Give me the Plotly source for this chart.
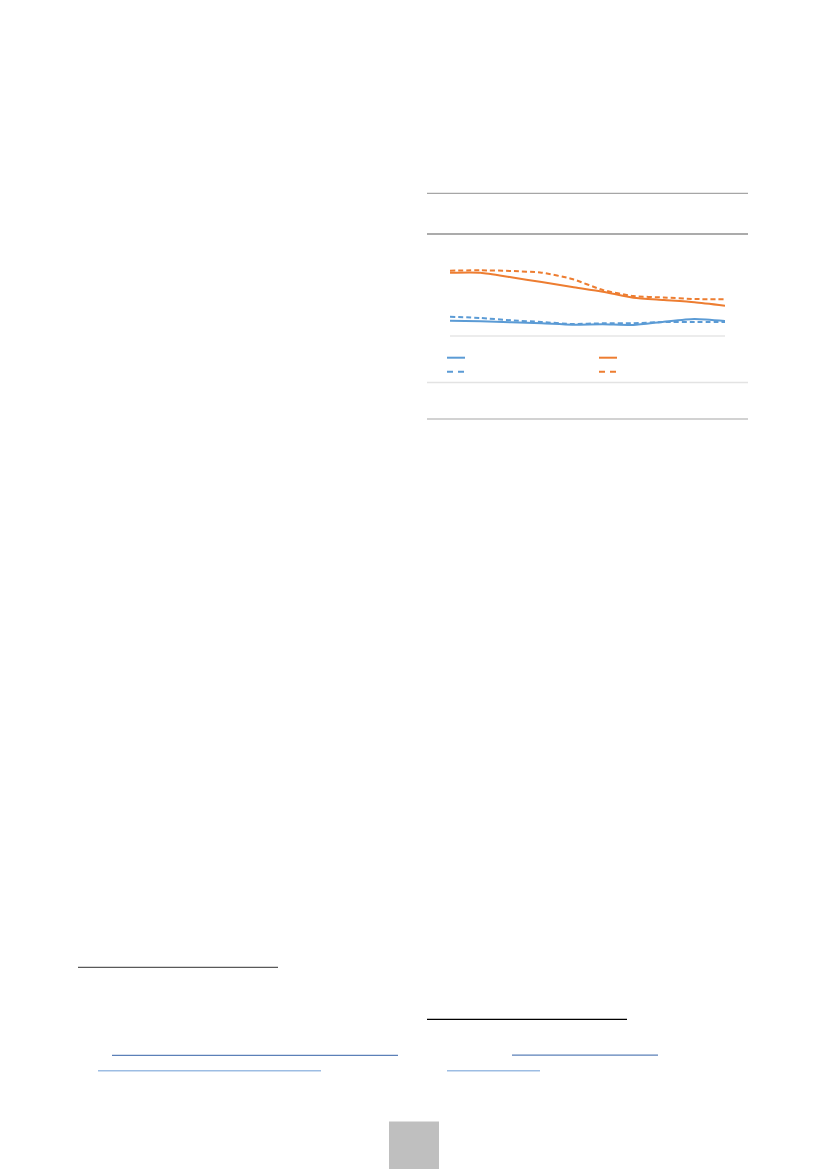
import plotly.graph_objects as go

W, H = 827, 1169

# ---- data (arbitrary units, 0 = baseline gridline) ----
categories = ["1", "2", "3", "4", "5", "6", "7", "8", "9", "10"]
blue_solid = [15.3, 14.7, 13.7, 12.7, 11.3, 11.7, 11.0, 14.3, 17.0, 15.0]
blue_dashed = [19.3, 18.0, 15.7, 14.0, 12.0, 12.7, 12.7, 14.0, 14.0, 14.0]
orange_solid = [63.3, 63.3, 58.7, 53.9, 49.0, 44.3, 38.3, 36.0, 33.7, 30.3]
orange_dashed = [65.3, 65.7, 65.0, 63.3, 57.0, 46.0, 40.0, 38.5, 37.0, 36.7]

BLUE = "#5b9bd5"
ORANGE = "#ed7d31"


def px(x):
    return x / W


def py(y):
    return 1 - y / H


fig = go.Figure()
series = [
    (blue_solid, BLUE, "solid"),
    (blue_dashed, BLUE, "5px,3px"),
    (orange_solid, ORANGE, "solid"),
    (orange_dashed, ORANGE, "5px,3px"),
]
for vals, col, dash in series:
    fig.add_trace(go.Scatter(
        x=categories, y=vals, mode="lines",
        line=dict(color=col, width=2, dash=dash, shape="spline", smoothing=0.6),
        showlegend=False, hoverinfo="skip",
    ))

shapes = []


def hline(x0, x1, y, color, width=1.3, dash="solid"):
    shapes.append(dict(type="line", xref="paper", yref="paper",
                       x0=px(x0), x1=px(x1), y0=py(y), y1=py(y),
                       line=dict(color=color, width=width, dash=dash)))


# chart frame lines
hline(427, 748, 193.3, "#a6a6a6", 1.2)
hline(427, 748, 234, "#595959", 1.2)
hline(450, 725, 336, "#d9d9d9", 1.0)
hline(427, 748, 382.5, "#e3e3e3", 1.5)
hline(427, 748, 419, "#a6a6a6", 1.2)

# legend samples
hline(447, 465, 357.7, BLUE, 2)
hline(599, 617, 357.7, ORANGE, 2)
hline(447, 465, 371.7, BLUE, 2, "6px,5px")
hline(599, 617, 371.7, ORANGE, 2, "6px,5px")

# footnote separators and link underlines
hline(78, 278, 967.3, "#595959", 1.2)
hline(427, 627, 1019.3, "#000000", 1.2)
hline(112, 398, 1055.3, "#5b80b8", 1.2)
hline(98, 321, 1070.7, "#9dbde3", 1.5)
hline(512, 658, 1055.2, "#5b80b8", 1.2)
hline(447, 540, 1070.7, "#9dbde3", 1.5)

# page number box
shapes.append(dict(type="rect", xref="paper", yref="paper",
                   x0=px(389), x1=px(439), y0=py(1169), y1=py(1121.5),
                   fillcolor="#bfbfbf", line=dict(width=0)))

fig.update_layout(
    width=W, height=H,
    margin=dict(l=0, r=0, t=0, b=0),
    paper_bgcolor="white", plot_bgcolor="white",
    shapes=shapes,
    xaxis=dict(domain=[px(450), px(725)], range=[0, 9], showgrid=False,
               zeroline=False, showticklabels=False, showline=False, ticks=""),
    yaxis=dict(domain=[py(336), py(256)], range=[0, 80], showgrid=False,
               zeroline=False, showticklabels=False, showline=False, ticks=""),
)

fig.write_html("out.html", config={"displayModeBar": False},
               post_script="document.body.style.margin='0';")
